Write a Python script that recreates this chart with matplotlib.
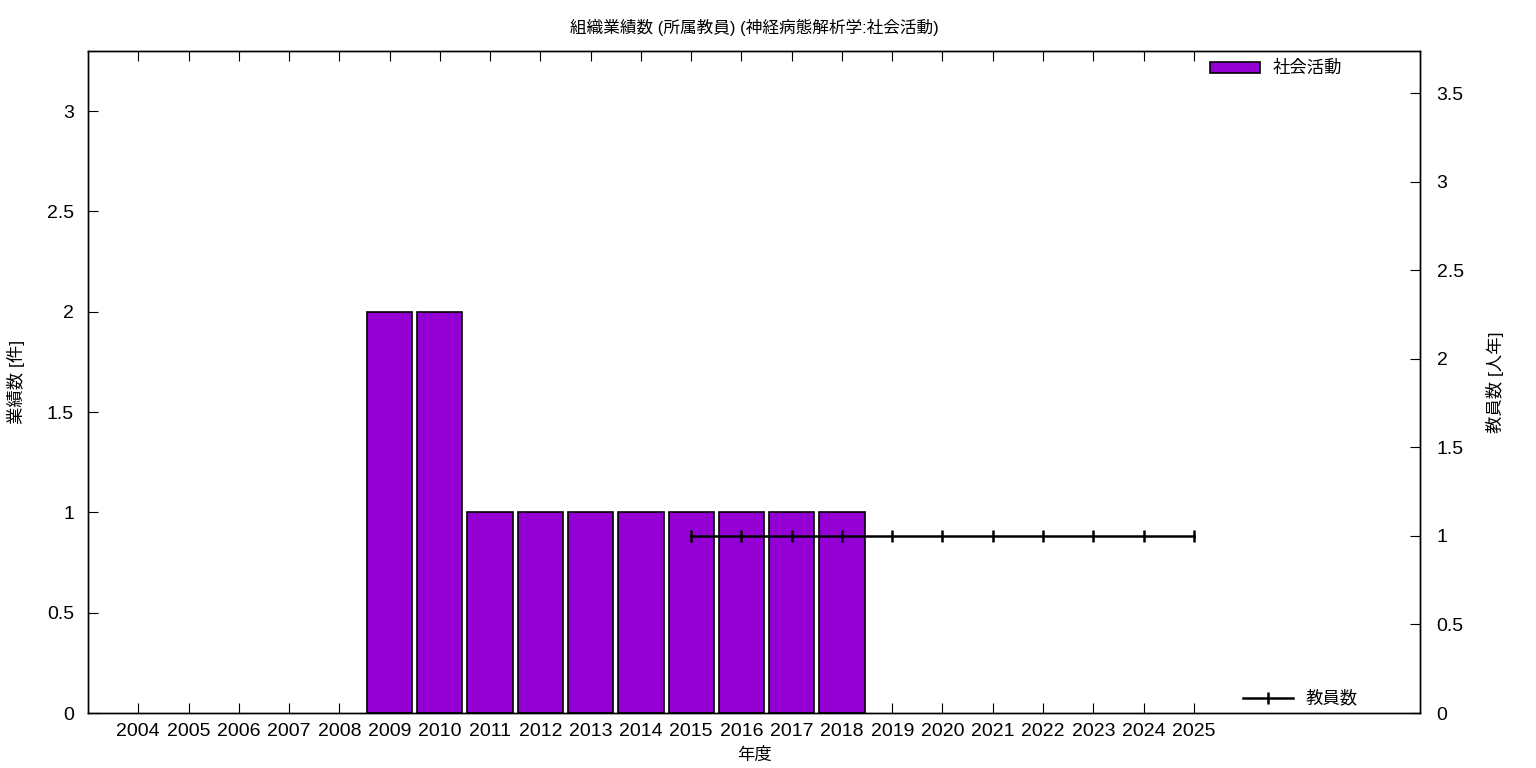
import numpy as np
import matplotlib
matplotlib.use('Agg')
import matplotlib.pyplot as plt

plt.rcParams['font.family'] = ['Liberation Sans', 'Noto Sans CJK JP', 'DejaVu Sans']

years = list(range(2004, 2026))
works = [0, 0, 0, 0, 0, 2, 2, 1, 1, 1, 1, 1, 1, 1, 1, 0, 0, 0, 0, 0, 0, 0]
staff_years = list(range(2015, 2026))
staff = [1] * len(staff_years)

# gnuplot draws nothing for empty years
bar_x = [y for y, w in zip(years, works) if w > 0]
bar_h = [w for w in works if w > 0]

fig = plt.figure(figsize=(15.36, 7.68), dpi=100)
ax = fig.add_axes([88 / 1536, 1 - 713 / 768, (1420 - 88) / 1536, (713 - 51) / 768])
ax2 = ax.twinx()

ax.bar(bar_x, bar_h, width=0.9, color='#9400d3', edgecolor='black', linewidth=1.2,
       label='社会活動', zorder=2)
ax2.plot(staff_years, staff, color='black', linewidth=1.8, marker='|', markersize=8,
         markeredgewidth=1.8, label='教員数', zorder=3)

ax.set_xlim(2003.0, 2029.5)
ax.set_ylim(0, 3.3)
ax2.set_ylim(0, 3.74)
ax.set_xticks(years)
ax.set_xticklabels([str(y) for y in years])
ax.set_yticks(np.arange(0, 3.01, 0.5))
ax.set_yticklabels(['0', '0.5', '1', '1.5', '2', '2.5', '3'])
ax2.set_yticks(np.arange(0, 3.51, 0.5))
ax2.set_yticklabels(['0', '0.5', '1', '1.5', '2', '2.5', '3', '3.5'])

ax.tick_params(axis='x', direction='in', top=True, length=7, labelsize=14, pad=7)
ax.tick_params(axis='y', direction='in', length=7, labelsize=14, pad=10)
ax2.tick_params(axis='y', direction='in', length=7, labelsize=14, pad=12)
for a in (ax, ax2):
    for s in a.spines.values():
        s.set_linewidth(1.0)

ax.set_xlabel('年度', fontsize=12.5, labelpad=5)
ax.set_ylabel('業績数 [件]', fontsize=12.5, labelpad=16)
ax2.set_ylabel('教員数 [人年]', fontsize=12.5, labelpad=16)
ax.set_title('組織業績数 (所属教員) (神経病態解析学:社会活動)', fontsize=12, pad=13)

ax.legend(loc='upper right', bbox_to_anchor=(0.953, 1.01), frameon=False, fontsize=12.5,
          handlelength=2.9, handleheight=0.6, handletextpad=0.7)
ax2.legend(loc='lower right', bbox_to_anchor=(0.965, -0.014), frameon=False, fontsize=12.5,
           handlelength=2.9, handletextpad=0.7)

fig.savefig('out.png', dpi=100)
